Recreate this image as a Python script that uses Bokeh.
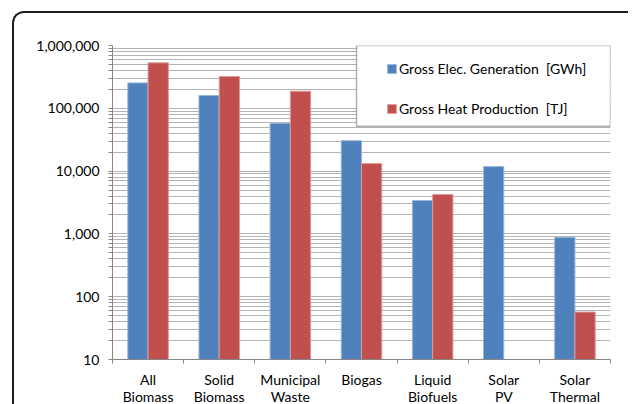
from bokeh.plotting import figure
from bokeh.layouts import column
from bokeh.models import (FixedTicker, NumeralTickFormatter, Range1d, ColumnDataSource,
                          Legend, LegendItem, BoxAnnotation)
from bokeh.transform import dodge
from bokeh.embed import file_html
from bokeh.resources import INLINE

# ---- data ----
categories = ["All\nBiomass", "Solid\nBiomass", "Municipal\nWaste", "Biogas",
              "Liquid\nBiofuels", "Solar\nPV", "Solar\nThermal"]
elec_gwh = [254000, 160000, 57900, 30500, 3400, 11800, 885]
heat_tj = [530000, 321000, 187000, 13200, 4250, float("nan"), 57]
series_names = ["Gross Elec. Generation  [GWh]", "Gross Heat Production  [TJ]"]
decades = [10, 100, 1000, 10000, 100000, 1000000]

BLUE = "#4F81BD"
RED = "#C0504D"
GRID = "#b4b4b4"
AXIS = "#868686"
FONT = "Lato"

n = len(categories)
centers = [i + 0.5 for i in range(n)]
edges = [float(i) for i in range(n + 1)]
minor = [m * d for d in decades[:-1] for m in range(2, 10)]

src = ColumnDataSource(dict(x=centers, elec=elec_gwh, heat=heat_tj))

p = figure(width=616, height=394, y_axis_type="log",
           x_range=Range1d(0, n), y_range=Range1d(decades[0], decades[-1]),
           output_backend="svg", toolbar_location=None,
           min_border_left=98, min_border_right=18, min_border_top=32, min_border_bottom=48)
p.styles = {"flex-shrink": "0", "flex": "none", "min-height": "394px"}
p.outline_line_color = None
p.background_fill_color = "white"
p.border_fill_color = "white"

w = 0.285
r1 = p.vbar(x=dodge("x", -w / 2), top="elec", bottom=1, width=w, source=src,
            fill_color=BLUE, line_color="#9bb7da", line_width=1)
r2 = p.vbar(x=dodge("x", w / 2), top="heat", bottom=1, width=w, source=src,
            fill_color=RED, line_color="#dc9a98", line_width=1)

# y axis
ya = p.yaxis[0]
ya.ticker = FixedTicker(ticks=decades, minor_ticks=minor)
ya.formatter = NumeralTickFormatter(format="0,0")
ya.axis_line_color = AXIS
ya.major_tick_line_color = AXIS
ya.minor_tick_line_color = AXIS
ya.major_tick_in = 0
ya.major_tick_out = 4
ya.minor_tick_in = 0
ya.minor_tick_out = 4
ya.major_label_standoff = 9
ya.major_label_text_font = FONT
ya.major_label_text_font_size = "14px"
ya.major_label_text_color = "#000000"

# x axis
xa = p.xaxis[0]
xa.ticker = FixedTicker(ticks=centers, minor_ticks=edges)
xa.major_label_overrides = {c: lab for c, lab in zip(centers, categories)}
xa.axis_line_color = AXIS
xa.major_tick_line_color = None
xa.major_tick_in = 0
xa.major_tick_out = 0
xa.minor_tick_line_color = AXIS
xa.minor_tick_in = 0
xa.minor_tick_out = 4
xa.major_label_standoff = 7
xa.major_label_text_line_height = 1.0
xa.major_label_text_font = FONT
xa.major_label_text_font_size = "14px"
xa.major_label_text_color = "#000000"

p.xgrid.visible = False
p.ygrid.grid_line_color = GRID
p.ygrid.minor_grid_line_color = GRID

# legend box + legend
box = BoxAnnotation(left=3.43, right=n, top=decades[-1], bottom=51900,
                    fill_color="white", fill_alpha=1.0,
                    line_color="#000000", line_width=1.5)
p.add_layout(box)

legend = Legend(items=[LegendItem(label=series_names[0], renderers=[r1]),
                       LegendItem(label=series_names[1], renderers=[r2])],
                location=(274, 241), padding=0, margin=0,
                border_line_color=None, background_fill_alpha=0,
                glyph_width=11, glyph_height=11, label_standoff=2,
                label_height=20, spacing=20,
                label_text_font=FONT, label_text_font_size="14px",
                label_text_color="#000000")
p.add_layout(legend)

# chart area with rounded border (cropped at the right and bottom like the reference)
layout = column(p, width=616, height=393,
                styles={"margin-left": "12px", "margin-top": "11px",
                        "border-top": "2px solid #1e1e1e",
                        "border-left": "2px solid #1e1e1e",
                        "border-top-left-radius": "12px",
                        "overflow": "hidden", "background": "white"})

open("out.html", "w").write(file_html(layout, INLINE))
